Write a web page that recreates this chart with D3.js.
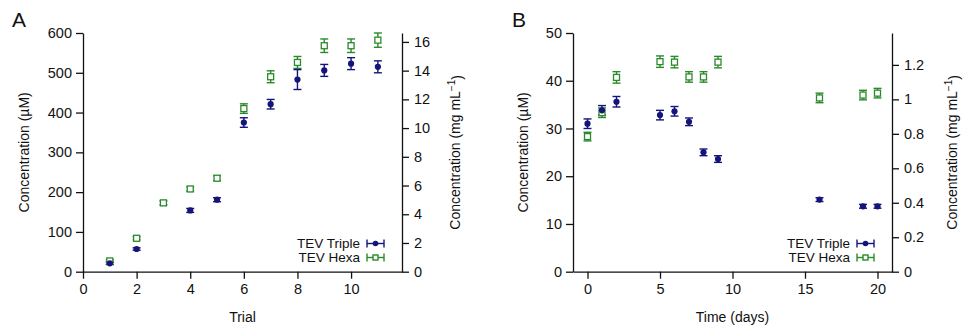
<!DOCTYPE html>
<html>
<head>
<meta charset="utf-8">
<script src="https://cdn.jsdelivr.net/npm/d3@7"></script>
<style>
  body { margin: 0; background: #fff; }
  svg { font-family: "Liberation Sans", Arial, Helvetica, sans-serif; }
  .axis text { font-size: 14.5px; fill: #111; }
  .axis path, .axis line { stroke: #111; stroke-width: 1.3; }
  .lab { font-size: 14px; fill: #111; }
  .leg { font-size: 13.5px; fill: #111; }
</style>
</head>
<body>
<svg id="chart" width="963" height="326"></svg>
<script>
// µM per mg/mL (same factor in both panels)
var convF = 36.1;
var triColor = "#14147a", hexColor = "#2a8a2a";

// Panel A: trials
var trialsTriple = [1, 2, 4, 5, 6, 7, 8, 9, 10, 11];
var tripleA = [21, 57, 154, 181, 375, 421, 483, 506, 523, 515];
var tripleAErr = [3, 3, 5, 5, 12, 12, 25, 15, 15, 15];
var trialsHexa = [1, 2, 3, 4, 5, 6, 7, 8, 9, 10, 11];
var hexaA = [27, 84, 173, 208, 235, 410, 490, 526, 568, 568, 582];
var hexaAErr = [3, 4, 5, 5, 6, 12, 15, 15, 17, 17, 18];

// Panel B: time in days
var days = [0, 1, 2, 5, 6, 7, 8, 9, 16, 19, 20];
var tripleB = [31.0, 33.8, 35.6, 32.8, 33.6, 31.4, 25.0, 23.6, 15.1, 13.7, 13.7];
var tripleBErr = [1.0, 1.0, 1.1, 1.0, 1.0, 0.8, 0.7, 0.7, 0.4, 0.4, 0.4];
var hexaB = [28.3, 33.3, 40.7, 44.0, 43.9, 40.8, 40.8, 43.9, 36.4, 37.0, 37.4];
var hexaBErr = [0.9, 1.0, 1.2, 1.2, 1.2, 1.1, 1.1, 1.2, 1.0, 1.0, 1.0];

var ticksAx = [0, 2, 4, 6, 8, 10];
var ticksAy = [0, 100, 200, 300, 400, 500, 600];
var ticksAr = [0, 2, 4, 6, 8, 10, 12, 14, 16];
var ticksBx = [0, 5, 10, 15, 20];
var ticksBy = [0, 10, 20, 30, 40, 50];
var ticksBr = [0, 0.2, 0.4, 0.6, 0.8, 1, 1.2];

var svg = d3.select("#chart");

var panels = [
  { letter: "A", lx: 12, left: 83, right: 402, xdom: [0, 11.9], ymax: 600,
    xt: ticksAx, yt: ticksAy, rt: ticksAr, xlabel: "Trial",
    yLabX: 24, rLabX: 455,
    tri: { x: trialsTriple, y: tripleA, e: tripleAErr },
    hex: { x: trialsHexa, y: hexaA, e: hexaAErr } },
  { letter: "B", lx: 512, left: 573, right: 892, xdom: [-1, 21], ymax: 50,
    xt: ticksBx, yt: ticksBy, rt: ticksBr, xlabel: "Time (days)",
    yLabX: 523, rLabX: 952,
    tri: { x: days, y: tripleB, e: tripleBErr },
    hex: { x: days, y: hexaB, e: hexaBErr } }
];

var plotTop = 33, plotBottom = 271.7;

panels.forEach(function (p) {
  var g = svg.append("g");
  var x = d3.scaleLinear().domain(p.xdom).range([p.left, p.right]);
  var y = d3.scaleLinear().domain([0, p.ymax]).range([plotBottom, plotTop]);
  var yr = d3.scaleLinear().domain([0, p.ymax / convF]).range([plotBottom, plotTop]);

  g.append("g").attr("class", "axis")
    .attr("transform", "translate(0," + plotBottom + ")")
    .call(d3.axisBottom(x).tickValues(p.xt).tickSize(7).tickSizeOuter(0).tickPadding(5));
  g.append("g").attr("class", "axis")
    .attr("transform", "translate(" + p.left + ",0)")
    .call(d3.axisLeft(y).tickValues(p.yt).tickSize(7).tickSizeOuter(0).tickPadding(4));
  g.append("g").attr("class", "axis")
    .attr("transform", "translate(" + p.right + ",0)")
    .call(d3.axisRight(yr).tickValues(p.rt).tickSize(7).tickSizeOuter(0).tickPadding(5)
      .tickFormat(d3.format("~g")));
  g.selectAll(".axis .domain").attr("fill", "none");

  g.append("text").attr("x", p.lx).attr("y", 27)
    .style("font-size", "21px").attr("fill", "#111").text(p.letter);
  g.append("text").attr("class", "lab")
    .attr("x", (p.left + p.right) / 2).attr("y", 322)
    .attr("text-anchor", "middle").text(p.xlabel);
  g.append("text").attr("class", "lab")
    .attr("transform", "translate(" + p.yLabX + "," + (plotTop + plotBottom) / 2 + ") rotate(-90)")
    .attr("text-anchor", "middle").attr("dy", "0.35em").text("Concentration (µM)");
  var rl = g.append("text").attr("class", "lab")
    .attr("transform", "translate(" + p.rLabX + "," + (plotTop + plotBottom) / 2 + ") rotate(-90)")
    .attr("text-anchor", "middle").attr("dy", "0.35em");
  rl.append("tspan").text("Concentration (mg mL");
  rl.append("tspan").attr("dy", "-0.45em").style("font-size", "10px").text("−1");
  rl.append("tspan").attr("dy", "0.45em").text(")");

  function errBars(s, color) {
    var d = s.x.map(function (v, i) { return { x: v, y: s.y[i], e: s.e[i] }; });
    var eb = g.append("g").attr("stroke", color).attr("stroke-width", 1.4);
    eb.selectAll("line.v").data(d).enter().append("line")
      .attr("x1", function (d) { return x(d.x); }).attr("x2", function (d) { return x(d.x); })
      .attr("y1", function (d) { return y(d.y - d.e); }).attr("y2", function (d) { return y(d.y + d.e); });
    [-1, 1].forEach(function (sg) {
      eb.selectAll("line.c" + sg).data(d).enter().append("line")
        .attr("x1", function (d) { return x(d.x) - 4; }).attr("x2", function (d) { return x(d.x) + 4; })
        .attr("y1", function (d) { return y(d.y + sg * d.e); }).attr("y2", function (d) { return y(d.y + sg * d.e); });
    });
    return d;
  }

  var dh = errBars(p.hex, hexColor);
  var dt = errBars(p.tri, triColor);
  g.selectAll("rect.hex").data(dh).enter().append("rect")
    .attr("x", function (d) { return x(d.x) - 3; }).attr("y", function (d) { return y(d.y) - 3; })
    .attr("width", 6).attr("height", 6)
    .attr("fill", "#fff").attr("stroke", hexColor).attr("stroke-width", 1.3);
  g.selectAll("circle.tri").data(dt).enter().append("circle")
    .attr("cx", function (d) { return x(d.x); }).attr("cy", function (d) { return y(d.y); })
    .attr("r", 3.1).attr("fill", triColor);

  // legend
  var lg = g.append("g").attr("transform", "translate(" + (p.right - 35) + ",0)");
  [["TEV Triple", triColor, 243.5], ["TEV Hexa", hexColor, 257.5]].forEach(function (it, i) {
    lg.append("text").attr("class", "leg").attr("x", -7).attr("y", it[2])
      .attr("dy", "0.35em").attr("text-anchor", "end").text(it[0]);
    var m = lg.append("g").attr("stroke", it[1]).attr("stroke-width", 1.4);
    m.append("line").attr("x1", 0).attr("x2", 17).attr("y1", it[2]).attr("y2", it[2]);
    m.append("line").attr("x1", 0).attr("x2", 0).attr("y1", it[2] - 4).attr("y2", it[2] + 4);
    m.append("line").attr("x1", 17).attr("x2", 17).attr("y1", it[2] - 4).attr("y2", it[2] + 4);
    if (i === 0) m.append("circle").attr("cx", 8.5).attr("cy", it[2]).attr("r", 2.8).attr("fill", it[1]).attr("stroke", "none");
    else m.append("rect").attr("x", 6).attr("y", it[2] - 2.5).attr("width", 5).attr("height", 5).attr("fill", "#fff");
  });
});
</script>
</body>
</html>
